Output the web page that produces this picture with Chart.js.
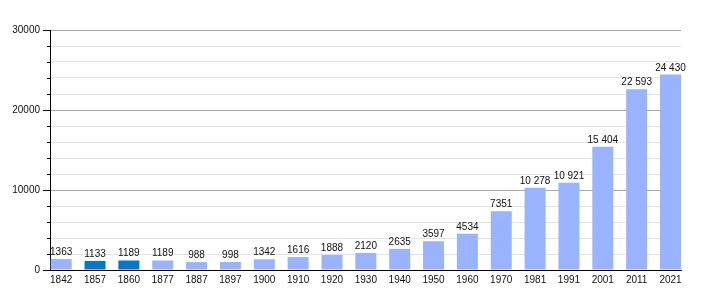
<!DOCTYPE html>
<html>
<head>
<meta charset="utf-8">
<script src="https://cdn.jsdelivr.net/npm/chart.js@4"></script>
<style>
  html, body { margin: 0; padding: 0; background: #fff; }
  #wrap { width: 710px; height: 300px; }
</style>
</head>
<body>
<div id="wrap"><canvas id="chart" width="710" height="300"></canvas></div>
<script>
// ── Data ──
const years = ['1842', '1857', '1860', '1877', '1887', '1897', '1900', '1910', '1920', '1930',
               '1940', '1950', '1960', '1970', '1981', '1991', '2001', '2011', '2021'];
const population = [1363, 1133, 1189, 1189, 988, 998, 1342, 1616, 1888, 2120,
                    2635, 3597, 4534, 7351, 10278, 10921, 15404, 22593, 24430];
const highlighted = ['1857', '1860'];
const yTicks = [0, 10000, 20000, 30000];

const FONT = { family: "'Liberation Sans', Arial, sans-serif", size: 10 };
const TEXT = '#111';
const fmtNum = v => v >= 10000 ? String(v).replace(/(\d)(?=(\d{3})+$)/g, '$1 ') : String(v);

// ── Value labels above bars ──
const valueLabels = {
    id: 'valueLabels',
    afterDatasetsDraw(chart) {
        const ctx = chart.ctx;
        const meta = chart.getDatasetMeta(0);
        ctx.save();
        ctx.font = `${FONT.size}px ${FONT.family}`;
        ctx.fillStyle = TEXT;
        ctx.textAlign = 'center';
        ctx.textBaseline = 'alphabetic';
        meta.data.forEach((bar, i) => ctx.fillText(fmtNum(population[i]), bar.x, bar.y - 4));
        ctx.restore();
    }
};

// ── Minor tick marks on the y axis ──
const minorTicks = {
    id: 'minorTicks',
    afterDraw(chart) {
        const y = chart.scales.y, ctx = chart.ctx;
        ctx.save();
        ctx.strokeStyle = '#000';
        ctx.lineWidth = 1;
        for (const t of y.ticks) {
            if (t.value % 10000 === 0) continue;
            const py = Math.round(y.getPixelForValue(t.value)) + 0.5;
            ctx.beginPath();
            ctx.moveTo(y.right - 3, py);
            ctx.lineTo(y.right, py);
            ctx.stroke();
        }
        ctx.restore();
    }
};

new Chart(document.getElementById('chart'), {
    type: 'bar',
    data: {
        datasets: [{
            data: population.map((v, i) => ({ x: i, y: v })),
            backgroundColor: years.map(y => highlighted.includes(y) ? '#0079c8' : '#99b3ff'),
            barPercentage: 0.62,
            categoryPercentage: 1,
        }]
    },
    options: {
        responsive: false,
        animation: false,
        layout: { padding: { top: 30, right: 29, left: 0, bottom: 0 } },
        plugins: { legend: { display: false }, tooltip: { enabled: false } },
        scales: {
            x: {
                type: 'linear',
                offset: false,
                min: -0.33, max: 18.31,
                grid: { display: false, drawTicks: false },
                border: { display: true, color: '#000', width: 1 },
                ticks: {
                    color: TEXT, font: FONT, padding: 4, maxRotation: 0, autoSkip: false,
                    callback: v => years[v] ?? '',
                },
                afterBuildTicks: s => { s.ticks = years.map((_, i) => ({ value: i })); },
                afterFit: s => { s.height = 30; },
            },
            y: {
                min: 0, max: 30000,
                grid: {
                    color: c => c.tick.value % 10000 === 0 ? '#aaaaaa' : '#e2e2e2',
                    tickColor: c => c.tick.value % 10000 === 0 ? '#000' : 'rgba(0,0,0,0)',
                    tickLength: 7,
                },
                border: { display: true, color: '#000', width: 1 },
                ticks: {
                    stepSize: 2000,
                    color: TEXT, font: FONT, padding: 3,
                    callback: v => yTicks.includes(v) ? String(v) : '',
                },
                afterFit: s => { s.width = 50; },
            }
        }
    },
    plugins: [valueLabels, minorTicks]
});
</script>
</body>
</html>
